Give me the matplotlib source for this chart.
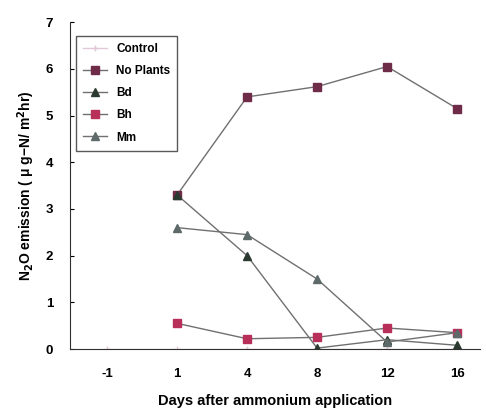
import numpy as np
import matplotlib.pyplot as plt

# ===== data =====
days = ["-1", "1", "4", "8", "12", "16"]
control = [0.0, 0.0, 0.0, 0.0, 0.0, 0.0]
no_plants = [np.nan, 3.3, 5.4, 5.62, 6.05, 5.15]
bd = [np.nan, 3.3, 2.0, 0.02, 0.2, 0.08]
bh = [np.nan, 0.55, 0.22, 0.25, 0.45, 0.35]
mm = [np.nan, 2.6, 2.45, 1.5, 0.15, 0.35]

plt.rcParams['font.family'] = ['Liberation Sans', 'DejaVu Sans']
plt.rcParams['font.weight'] = 'bold'

fig = plt.figure(figsize=(4.86, 4.19), dpi=100)
ax = fig.add_axes([0.144, 0.167, 0.844, 0.78])
x = np.arange(len(days))

line_col = '#707070'
ax.plot(x, control, color='#e0c8d8', marker='+', ms=5, lw=1, label='Control')
ax.plot(x, no_plants, color=line_col, marker='s', ms=6, mfc='#6e2c48', mec='#6e2c48', lw=1, label='No Plants')
ax.plot(x, bd, color=line_col, marker='^', ms=6, mfc='#2a3a30', mec='#2a3a30', lw=1, label='Bd')
ax.plot(x, bh, color=line_col, marker='s', ms=6, mfc='#b8305a', mec='#b8305a', lw=1, label='Bh')
ax.plot(x, mm, color=line_col, marker='^', ms=6, mfc='#5e6a6a', mec='#5e6a6a', lw=1, label='Mm')

ax.set_xlim(-0.53, 5.33)
ax.set_ylim(0, 7)
ax.set_xticks(x)
ax.set_xticklabels(days)
ax.set_yticks(range(8))
ax.tick_params(axis='x', length=0, pad=14, labelsize=9.5)
ax.tick_params(axis='y', direction='in', length=3, pad=12, labelsize=9.5)
ax.spines['top'].set_visible(False)
ax.spines['right'].set_visible(False)
ax.spines['left'].set_color('#303030')
ax.spines['bottom'].set_color('#303030')

ax.set_xlabel("Days after ammonium application", fontsize=10.5, fontweight='bold', labelpad=10)
ax.set_ylabel("N$_2$O emission ( μ g−N/ m$^2$hr)", fontsize=10, fontweight='bold', labelpad=6)

leg = ax.legend(loc='upper left', bbox_to_anchor=(0.0, 0.975), fontsize=8.5,
                frameon=True, fancybox=False, edgecolor='#303030',
                handlelength=2.0, borderpad=0.6, labelspacing=0.85)
leg.get_frame().set_linewidth(1)

plt.savefig("out.png", dpi=100)
